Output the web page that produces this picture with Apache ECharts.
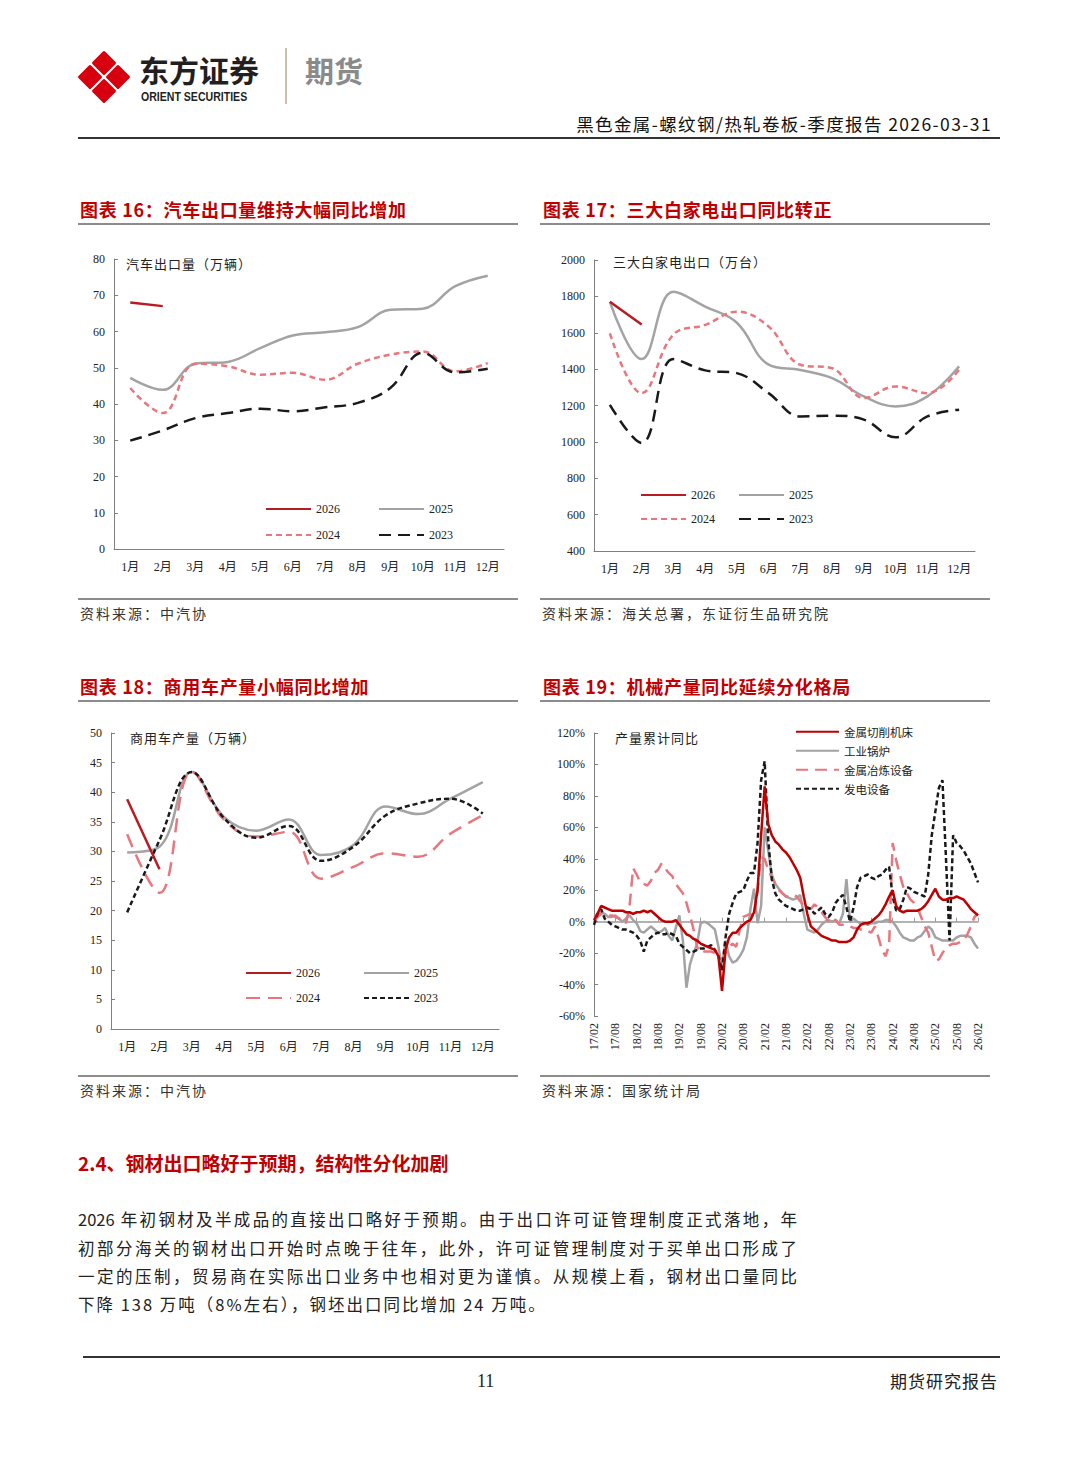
<!DOCTYPE html>
<html><head><meta charset="utf-8">
<script src="https://cdn.jsdelivr.net/npm/echarts@6/dist/echarts.min.js"></script>
<style>
body{margin:0;background:#fff;}
#page{position:relative;width:1080px;height:1466px;overflow:hidden;font-family:"Noto Sans CJK SC",sans-serif;background:#fff;}
#chart{position:absolute;left:0;top:0;width:1080px;height:1466px;}
.t{position:absolute;white-space:nowrap;line-height:1;}
.rule{position:absolute;}
.ct{color:#c00000;font-size:18px;font-weight:700;letter-spacing:0.7px;}
.src{font-size:14px;letter-spacing:2px;color:#333;}
.lbl{font-size:13px;letter-spacing:1px;color:#222;}
.body{font-size:16.5px;color:#222;width:719px;text-align:justify;text-align-last:justify;}
</style></head>
<body><div id="page">
<div id="chart"></div>
<svg class="rule" style="left:70px;top:40px" width="70" height="72" viewBox="70 40 70 72">
  <g fill="#d7000f" stroke="#d7000f" stroke-width="3" stroke-linejoin="round">
    <polygon points="104,52.5 114.5,63 104,73.5 93.5,63"/>
    <polygon points="90,66.5 100.5,77 90,87.5 79.5,77"/>
    <polygon points="118,66.5 128.5,77 118,87.5 107.5,77"/>
    <polygon points="104,80.5 114.5,91 104,101.5 93.5,91"/>
  </g>
</svg>
<div class="t" style="left:139px;top:54px;font-size:30px;font-weight:700;color:#231f20;">东方证券</div>
<div class="t" style="left:141px;top:91px;font-size:12px;font-weight:700;color:#231f20;font-family:'Liberation Sans',Arial,sans-serif;transform:scaleX(0.88);transform-origin:left top;">ORIENT SECURITIES</div>
<div class="rule" style="left:285px;top:48px;width:1.5px;height:56px;background:#cbbfae;"></div>
<div class="t" style="left:305px;top:56px;font-size:29px;font-weight:700;color:#8a8a8a;">期货</div>
<div class="t" style="right:88px;top:115px;font-size:17.5px;letter-spacing:1.4px;color:#111;">黑色金属-螺纹钢/热轧卷板-季度报告 2026-03-31</div>
<div class="rule" style="left:78px;top:137px;width:922px;height:2px;background:#333;"></div>

<div class="t ct" style="left:80px;top:200px;">图表 16：汽车出口量维持大幅同比增加</div>
<div class="t ct" style="left:543px;top:200px;">图表 17：三大白家电出口同比转正</div>
<div class="rule" style="left:78px;top:223px;width:440px;height:1.5px;background:#8c8c8c;"></div>
<div class="rule" style="left:540px;top:223px;width:450px;height:1.5px;background:#8c8c8c;"></div>
<div class="t lbl" style="left:126px;top:257px;">汽车出口量（万辆）</div>
<div class="t lbl" style="left:613px;top:255px;">三大白家电出口（万台）</div>
<div class="rule" style="left:78px;top:598px;width:440px;height:1.5px;background:#8c8c8c;"></div>
<div class="rule" style="left:540px;top:598px;width:450px;height:1.5px;background:#8c8c8c;"></div>
<div class="t src" style="left:80px;top:606px;">资料来源：中汽协</div>
<div class="t src" style="left:542px;top:606px;">资料来源：海关总署，东证衍生品研究院</div>

<div class="t ct" style="left:80px;top:677px;">图表 18：商用车产量小幅同比增加</div>
<div class="t ct" style="left:543px;top:677px;">图表 19：机械产量同比延续分化格局</div>
<div class="rule" style="left:78px;top:700px;width:440px;height:1.5px;background:#8c8c8c;"></div>
<div class="rule" style="left:540px;top:700px;width:450px;height:1.5px;background:#8c8c8c;"></div>
<div class="t lbl" style="left:130px;top:731px;">商用车产量（万辆）</div>
<div class="t lbl" style="left:615px;top:731px;">产量累计同比</div>
<div class="rule" style="left:78px;top:1075px;width:440px;height:1.5px;background:#8c8c8c;"></div>
<div class="rule" style="left:540px;top:1075px;width:450px;height:1.5px;background:#8c8c8c;"></div>
<div class="t src" style="left:80px;top:1083px;">资料来源：中汽协</div>
<div class="t src" style="left:542px;top:1083px;">资料来源：国家统计局</div>

<div class="t" style="left:78px;top:1153px;font-size:19px;font-weight:700;color:#c00000;">2.4、钢材出口略好于预期，结构性分化加剧</div>
<div class="t body" style="left:78px;top:1211px;">2026 年初钢材及半成品的直接出口略好于预期。由于出口许可证管理制度正式落地，年</div>
<div class="t body" style="left:78px;top:1240px;">初部分海关的钢材出口开始时点晚于往年，此外，许可证管理制度对于买单出口形成了</div>
<div class="t body" style="left:78px;top:1268px;">一定的压制，贸易商在实际出口业务中也相对更为谨慎。从规模上看，钢材出口量同比</div>
<div class="t" style="left:78px;top:1296px;font-size:16.5px;color:#222;letter-spacing:2px;">下降 138 万吨（8%左右），钢坯出口同比增加 24 万吨。</div>

<div class="rule" style="left:83px;top:1356px;width:917px;height:1.5px;background:#333;"></div>
<div class="t" style="left:477px;top:1372px;font-size:18px;color:#222;font-family:'Liberation Serif',serif;">11</div>
<div class="t" style="right:82px;top:1372px;font-size:17px;letter-spacing:1px;color:#222;">期货研究报告</div>
</div>
<script>
// ---- data ----
const months = ['1月','2月','3月','4月','5月','6月','7月','8月','9月','10月','11月','12月'];

const carExport2026 = [68, 67, null, null, null, null, null, null, null, null, null, null];
const carExport2025 = [47.2, 43.9, 51.1, 51.6, 55.4, 58.9, 59.8, 61.2, 66.0, 66.3, 72.5, 75.4];
const carExport2024 = [44.4, 37.5, 51.1, 50.4, 48.1, 48.6, 46.7, 51.1, 53.6, 54.5, 49.0, 51.3];
const carExport2023 = [29.9, 32.7, 36.1, 37.5, 38.7, 38.0, 39.1, 40.3, 44.4, 54.1, 48.7, 49.7];

const appliance2026 = [1770, 1645, null, null, null, null, null, null, null, null, null, null];
const appliance2025 = [1770, 1455, 1825, 1744, 1655, 1425, 1395, 1350, 1250, 1195, 1250, 1415];
const appliance2024 = [1597, 1268, 1590, 1643, 1716, 1634, 1424, 1405, 1241, 1305, 1268, 1396];
const appliance2023 = [1204, 994, 1455, 1393, 1378, 1268, 1140, 1144, 1122, 1025, 1140, 1177];

const cv2026 = [38.8, 27.0, null, null, null, null, null, null, null, null, null, null];
const cv2025 = [29.8, 30.8, 43.4, 35.8, 33.5, 35.4, 29.4, 31.1, 37.6, 36.3, 38.9, 41.7];
const cv2024 = [32.9, 23.0, 43.5, 35.3, 32.5, 33.3, 25.4, 27.4, 29.7, 29.1, 33.0, 36.1];
const cv2023 = [19.7, 31.9, 43.4, 35.6, 32.3, 34.3, 28.4, 30.8, 36.1, 38.1, 38.9, 36.4];

const machineNames = ['金属切削机床','工业锅炉','金属冶炼设备','发电设备'];
// monthly categories 17/02 .. 26/02
const machineDates = [];
for (let y = 17; y <= 26; y++) {
  for (let m = 1; m <= 12; m++) {
    if (y === 17 && m < 2) continue;
    if (y === 26 && m > 2) break;
    machineDates.push(y + '/' + String(m).padStart(2, '0'));
  }
}
const cuttingTools = [1,5,10,9,8,7,7,7,7,6, 6,5,6,6,7,6,7,5,3,1, 0,0,0,1,-2,-5,-8,-9,-11,-12,
  -14,-15,-16,-17,-18,-22,-44,-18,-10,-7, -7,-4,-2,0,1,6,20,55,86,62, 55,51,49,46,44,41,37,33,28,16,
  5,-3,-5,-7,-9,-10,-11,-12,-12,-13, -13,-13,-12,-10,-5,-2,-1,-1,0,2, 4,7,11,16,20,10,7,6,7,7,
  7,7,8,10,13,17,21,16,14,14, 15,15,16,15,14,11,8,6,4];
const boilers = [3,5,6,5,3,3,4,2,0,2, 4,1,-1,-6,-7,-5,-3,-5,-7,-6, -4,-9,-12,-4,4,-12,-42,-27,-20,-14,
  -1,0,-1,-3,-5,-16,-30,-12,-22,-26, -25,-22,-18,-10,8,21,-1,10,60,45, 30,24,21,18,16,15,14,15,17,5,
  -5,-6,-7,-5,-2,0,1,0,1,-1, 5,27,0,2,0,-1,-1,-2,-1,-1, 0,0,1,1,0,-3,-7,-10,-11,-12,
  -12,-10,-9,-6,-3,-5,-10,-11,-12,-12, -12,-12,-10,-9,-9,-9,-10,-14,-17];
const smelting = [0,3,5,5,4,4,3,2,2,-1, 10,34,30,25,24,23,26,31,33,37, 34,31,29,24,21,18,12,4,-5,-16,
  -20,-19,-19,-19,-20,-22,-24,-20,-16,-14, -16,-5,3,4,5,2,20,41,40,33, 28,24,20,18,16,16,17,16,13,10,
  9,8,11,9,6,3,0,2,1,-2, -2,-3,-3,-4,-4,-5,-5,-6,-7,-3, -10,-18,-22,-15,50,39,30,22,18,14,
  12,9,3,-3,-7,-16,-25,-24,-20,-17, -15,-14,-14,-13,-12,-8,-3,3,5];
const powerGen = [-2,5,8,2,0,-2,-3,-4,-5,-5, -6,-7,-9,-12,-19,-12,-10,-8,-7,-8, -8,-7,-8,-9,-14,-16,-18,-20,-19,-18,
  -17,-17,-16,-15,-18,-22,-31,-10,5,12, 18,19,20,26,31,31,50,90,102,52, 27,18,14,12,10,9,8,7,7,8,
  9,8,5,7,9,5,3,6,12,15, 17,9,0,9,22,28,29,30,28,27, 29,30,33,35,16,7,8,14,22,21,
  19,18,17,16,30,55,70,85,90,40, -12,55,50,48,45,41,37,31,25];

// ---- styles ----
const SERIF = "'Liberation Serif','Times New Roman','Noto Sans CJK SC',serif";
const C_RED = '#b81c22', C_GRAY = '#a3a3a3', C_PINK = '#e8767c', C_BLACK = '#1a1a1a';
const axisColor = '#7f7f7f';

function catAxis(grid) {
  return {
    type: 'category', gridIndex: grid, data: months, boundaryGap: true,
    axisLine: {lineStyle: {color: axisColor, width: 1}},
    axisTick: {inside: true, length: 4, lineStyle: {color: axisColor}},
    axisLabel: {fontFamily: SERIF, fontSize: 12, color: '#222', margin: 12}
  };
}
function valAxis(grid, min, max, interval, fmt) {
  return {
    type: 'value', gridIndex: grid, min: min, max: max, interval: interval,
    axisLine: {show: true, lineStyle: {color: axisColor, width: 1}},
    axisTick: {show: true, inside: true, length: 4, lineStyle: {color: axisColor}},
    splitLine: {show: false},
    axisLabel: {fontFamily: SERIF, fontSize: 12, color: '#222', margin: 9,
      formatter: fmt || function (v) { return String(v); }}
  };
}
function ln(name, data, xi, yi, color, type, smooth, z) {
  return {
    name: name, type: 'line', data: data, xAxisIndex: xi, yAxisIndex: yi,
    symbol: 'none', showSymbol: false, smooth: smooth, connectNulls: false, z: z || 2,
    lineStyle: {color: color, width: 2.5, type: type, cap: 'butt'},
    itemStyle: {color: color}
  };
}
function trimName(n) { return n.trim(); }
function legendRow(names, left, top, gap) {
  return {
    data: names, left: left, top: top, orient: 'horizontal', padding: 0,
    itemWidth: 45, itemHeight: 10, itemGap: gap, formatter: trimName,
    itemStyle: {opacity: 0, borderWidth: 0},
    textStyle: {fontFamily: SERIF, fontSize: 12, color: '#222'},
    selectedMode: false
  };
}

const option = {
  animation: false,
  grid: [
    {left: 114, top: 259, width: 390, height: 290},
    {left: 594, top: 260, width: 381, height: 291},
    {left: 111, top: 733, width: 388, height: 296},
    {left: 594, top: 733, width: 384, height: 283}
  ],
  xAxis: [
    catAxis(0), catAxis(1), catAxis(2),
    {type: 'category', gridIndex: 3, data: machineDates, boundaryGap: false,
     axisLine: {onZero: true, lineStyle: {color: '#9a9a9a', width: 1.5}},
     axisTick: {inside: true, length: 4, interval: 5, lineStyle: {color: '#9a9a9a'}},
     axisLabel: {show: false}},
    {type: 'category', gridIndex: 3, data: machineDates, boundaryGap: false, position: 'bottom',
     axisLine: {show: false, onZero: false}, axisTick: {show: false},
     axisLabel: {interval: 5, rotate: 90, fontFamily: SERIF, fontSize: 12, color: '#222', margin: 7}}
  ],
  yAxis: [
    valAxis(0, 0, 80, 10),
    valAxis(1, 400, 2000, 200),
    valAxis(2, 0, 50, 5),
    valAxis(3, -60, 120, 20, '{value}%')
  ],
  legend: [
    legendRow(['2026', '2025'], 265, 503, 38),
    legendRow(['2024', '2023'], 265, 529, 38),
    legendRow(['2026 ', '2025 '], 640, 489, 23),
    legendRow(['2024 ', '2023 '], 640, 513, 23),
    legendRow(['2026  ', '2025  '], 245, 967, 43),
    legendRow(['2024  ', '2023  '], 245, 992, 43),
    {data: machineNames, left: 795, top: 726, orient: 'vertical', padding: 0,
     itemWidth: 43, itemHeight: 12, itemGap: 7.5, selectedMode: false,
     itemStyle: {opacity: 0, borderWidth: 0},
     textStyle: {fontFamily: "'Noto Sans CJK SC',sans-serif", fontSize: 11.5, color: '#222'}}
  ],
  series: [
    ln('2025', carExport2025, 0, 0, C_GRAY, 'solid', 0.4),
    ln('2024', carExport2024, 0, 0, C_PINK, [6, 4], 0.4),
    ln('2023', carExport2023, 0, 0, C_BLACK, [12, 7], 0.4),
    ln('2026', carExport2026, 0, 0, C_RED, 'solid', 0.4, 5),

    ln('2025 ', appliance2025, 1, 1, C_GRAY, 'solid', 0.4),
    ln('2024 ', appliance2024, 1, 1, C_PINK, [6, 4], 0.4),
    ln('2023 ', appliance2023, 1, 1, C_BLACK, [12, 7], 0.4),
    ln('2026 ', appliance2026, 1, 1, C_RED, 'solid', 0.4, 5),

    ln('2025  ', cv2025, 2, 2, C_GRAY, 'solid', 0.4),
    ln('2024  ', cv2024, 2, 2, C_PINK, [14, 8], 0.4),
    ln('2023  ', cv2023, 2, 2, C_BLACK, [5, 3], 0.4),
    ln('2026  ', cv2026, 2, 2, C_RED, 'solid', 0.4, 5),

    ln(machineNames[1], boilers, 3, 3, C_GRAY, 'solid', false),
    ln(machineNames[2], smelting, 3, 3, C_PINK, [12, 7], false),
    ln(machineNames[3], powerGen, 3, 3, C_BLACK, [5, 3], false),
    ln(machineNames[0], cuttingTools, 3, 3, '#c00000', 'solid', false, 5)
  ]
};
const chart = echarts.init(document.getElementById('chart'), null, {renderer: 'svg'});
chart.setOption(option);
</script>
</body></html>
